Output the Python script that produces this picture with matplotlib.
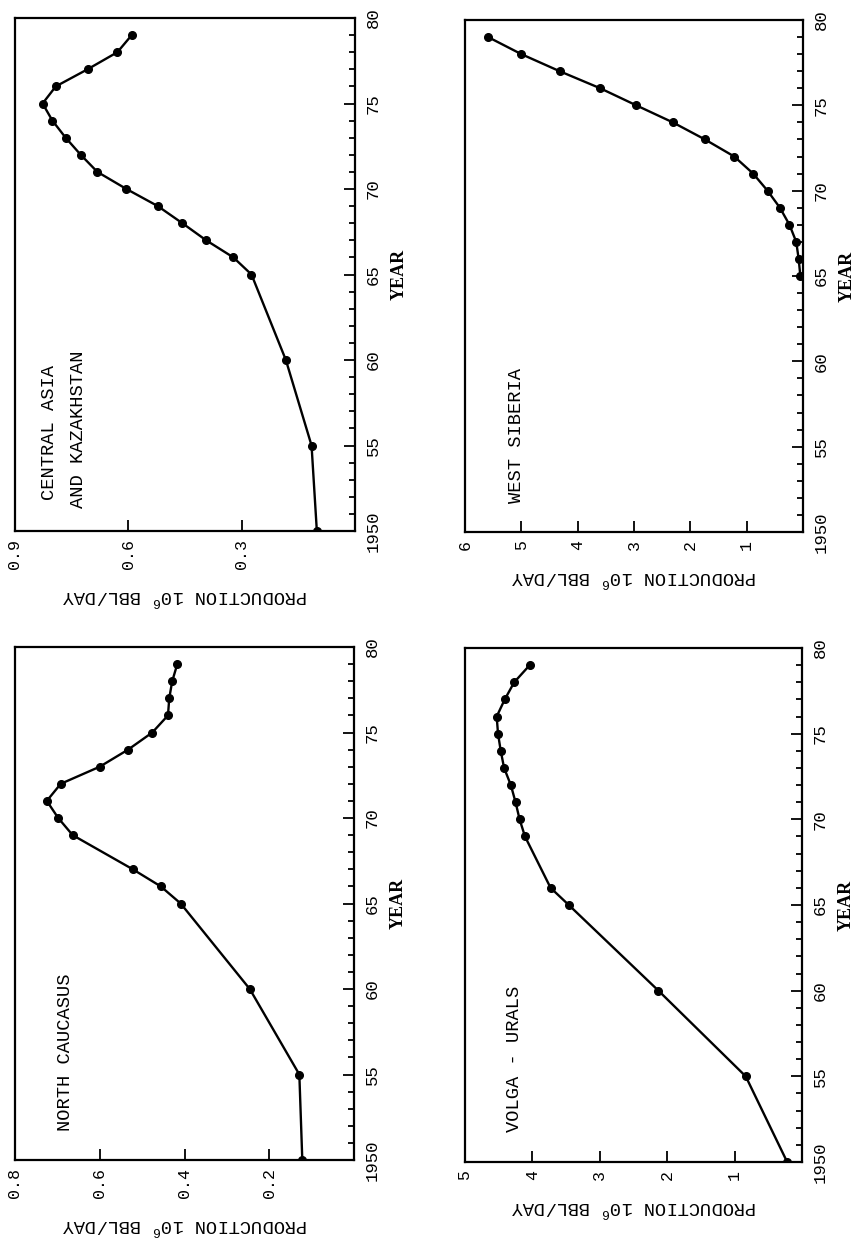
import matplotlib
matplotlib.use("Agg")
import matplotlib.pyplot as plt
from matplotlib.ticker import MultipleLocator

# ---------------- data ----------------
year_ticks = [1950, 1955, 1960, 1965, 1970, 1975, 1980]
year_tick_labels = ["1950", "55", "60", "65", "70", "75", "80"]

ca_years = [1950, 1955, 1960, 1965, 1966, 1967, 1968, 1969, 1970, 1971, 1972,
            1973, 1974, 1975, 1976, 1977, 1978, 1979]
ca_prod = [0.101, 0.115, 0.183, 0.274, 0.322, 0.394, 0.457, 0.522, 0.605, 0.682,
           0.726, 0.766, 0.801, 0.827, 0.792, 0.708, 0.629, 0.591]
ca_xticks = [0.9, 0.6, 0.3]
ca_xticklabels = ["0.9", "0.6", "0.3"]

ws_years = [1965, 1966, 1967, 1968, 1969, 1970, 1971, 1972, 1973, 1974, 1975,
            1976, 1977, 1978, 1979]
ws_prod = [0.047, 0.077, 0.12, 0.24, 0.41, 0.63, 0.885, 1.22, 1.74, 2.31, 2.96,
           3.60, 4.32, 5.00, 5.59]
ws_xticks = [6, 5, 4, 3, 2, 1]
ws_xticklabels = ["6", "5", "4", "3", "2", "1"]

nc_years = [1950, 1955, 1960, 1965, 1966, 1967, 1969, 1970, 1971, 1972, 1973,
            1974, 1975, 1976, 1977, 1978, 1979]
nc_prod = [0.122, 0.129, 0.246, 0.409, 0.456, 0.522, 0.664, 0.698, 0.725, 0.692,
           0.600, 0.533, 0.476, 0.439, 0.436, 0.429, 0.417]
nc_xticks = [0.8, 0.6, 0.4, 0.2]
nc_xticklabels = ["0.8", "0.6", "0.4", "0.2"]

vu_years = [1950, 1955, 1960, 1965, 1966, 1969, 1970, 1971, 1972, 1973, 1974,
            1975, 1976, 1977, 1978, 1979]
vu_prod = [0.22, 0.835, 2.13, 3.46, 3.73, 4.11, 4.19, 4.25, 4.32, 4.42, 4.47,
           4.51, 4.53, 4.41, 4.27, 4.04]
vu_xticks = [5, 4, 3, 2, 1]
vu_xticklabels = ["5", "4", "3", "2", "1"]

MONO = "Liberation Mono"
SERIF = "Liberation Serif"

fig = plt.figure(figsize=(8.58, 12.38), dpi=100)

W = 858.0
H = 1238.0


def make_axes(x0, y0, x1, y1):
    return fig.add_axes([x0 / W, 1 - y1 / H, (x1 - x0) / W, (y1 - y0) / H])


def draw(ax, years, prod, xmax, xticks, xticklabels, labels):
    ax.plot(prod, years, color="black", lw=1.7, marker="o", ms=5.5,
            mfc="black", mec="black", solid_joinstyle="miter")
    ax.set_xlim(xmax, 0)
    ax.set_ylim(1950, 1980)
    for s in ax.spines.values():
        s.set_linewidth(1.6)
    ax.yaxis.tick_right()
    ax.yaxis.set_label_position("right")
    ax.set_yticks(year_ticks)
    ax.set_yticklabels(year_tick_labels, rotation=90, va="center",
                       fontfamily=MONO, fontsize=12.5)
    ax.yaxis.set_minor_locator(MultipleLocator(1))
    ax.set_xticks(xticks)
    ax.set_xticklabels(xticklabels, rotation=90, fontfamily=MONO, fontsize=12)
    ax.tick_params(axis="both", which="both", direction="in", color="black",
                   width=1.3)
    ax.tick_params(axis="y", which="major", length=8, pad=8)
    ax.tick_params(axis="y", which="minor", length=4.5)
    ax.tick_params(axis="x", which="major", length=8, pad=6)
    ax.set_xlabel(r"PRODUCTION 10$^{\mathregular{6}}$ BBL/DAY", rotation=180,
                  fontfamily=MONO, fontsize=13.5, labelpad=12)
    ax.set_ylabel("YEAR", rotation=90, fontfamily=SERIF, fontweight="bold",
                  fontsize=13, labelpad=7)
    for (txt, xf, yf) in labels:
        ax.text(xf, yf, txt, transform=ax.transAxes, rotation=90,
                ha="center", va="bottom", fontfamily=MONO, fontsize=13.5)


ax_ca = make_axes(15, 18, 355, 531)
draw(ax_ca, ca_years, ca_prod, 0.9, ca_xticks, ca_xticklabels,
     [("CENTRAL ASIA", 0.10, 0.06), ("AND KAZAKHSTAN", 0.188, 0.045)])

ax_ws = make_axes(465, 20, 803, 532)
draw(ax_ws, ws_years, ws_prod, 6, ws_xticks, ws_xticklabels,
     [("WEST SIBERIA", 0.152, 0.057)])

ax_nc = make_axes(15, 647, 354, 1160)
draw(ax_nc, nc_years, nc_prod, 0.8, nc_xticks, nc_xticklabels,
     [("NORTH CAUCASUS", 0.15, 0.057)])

ax_vu = make_axes(465, 648, 802, 1162)
draw(ax_vu, vu_years, vu_prod, 5, vu_xticks, vu_xticklabels,
     [("VOLGA - URALS", 0.148, 0.058)])

fig.savefig("out.png", dpi=100)
